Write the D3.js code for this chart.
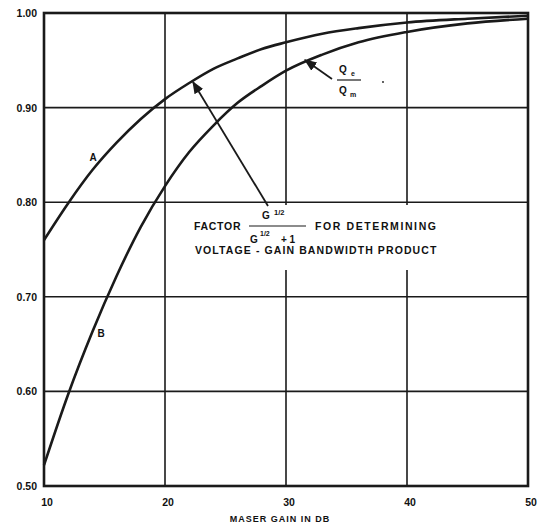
<!DOCTYPE html>
<html><head><meta charset="utf-8">
<script src="https://cdn.jsdelivr.net/npm/d3@7"></script>
<style>body{margin:0;background:#fff}text{font-family:"Liberation Sans",Arial,sans-serif;font-weight:bold;fill:#111}</style>
</head><body><svg id="c" width="545" height="524"></svg>
<script>
const gainDb = [10,12,14,16,18,20,22,24,26,28,30,33,36,40,45,50];
const curveA = [0.760,0.799,0.834,0.863,0.888,0.909,0.926,0.941,0.952,0.962,0.969,0.978,0.984,0.990,0.994,0.997];
const curveB = [0.522,0.597,0.663,0.722,0.774,0.817,0.853,0.881,0.905,0.923,0.939,0.956,0.969,0.980,0.989,0.994];
const xTicks = [10,20,30,40,50];
const yTicks = [0.50,0.60,0.70,0.80,0.90,1.00];
const yTickLabels = ["0.50","0.60","0.70","0.80","0.90","1.00"];

const svg = d3.select("#c");
const x = d3.scaleLinear().domain([10,50]).range([44,528]);
const y = d3.scaleLinear().domain([0.5,1.0]).range([486,13]);
const ink = "#1a1a1a";

// grid
svg.append("g").selectAll("line.v").data(xTicks).join("line")
  .attr("x1",d=>x(d)).attr("x2",d=>x(d)).attr("y1",y(1)).attr("y2",y(0.5))
  .attr("stroke",ink).attr("stroke-width",1.6);
svg.append("g").selectAll("line.h").data(yTicks).join("line")
  .attr("x1",x(10)).attr("x2",x(50)).attr("y1",d=>y(d)).attr("y2",d=>y(d))
  .attr("stroke",ink).attr("stroke-width",1.6);
// frame
svg.append("rect").attr("x",x(10)).attr("y",y(1)).attr("width",x(50)-x(10)).attr("height",y(0.5)-y(1))
  .attr("fill","none").attr("stroke",ink).attr("stroke-width",2.6);

// white box behind annotation
svg.append("rect").attr("x",190).attr("y",205).attr("width",256).attr("height",65).attr("fill","#fff");

const line = d3.line().x(d=>x(d[0])).y(d=>y(d[1])).curve(d3.curveMonotoneX);
[curveA,curveB].forEach(c=>{
  svg.append("path").datum(gainDb.map((g,i)=>[g,c[i]])).attr("d",line)
    .attr("fill","none").attr("stroke",ink).attr("stroke-width",2.6);
});

// ticks labels
svg.append("g").selectAll("text").data(yTicks).join("text")
  .attr("x",37).attr("y",d=>y(d)+4).attr("text-anchor","end").attr("font-size",10.5)
  .text((d,i)=>yTickLabels[i]);
svg.append("g").selectAll("text").data(xTicks).join("text")
  .attr("x",d=>x(d)+3).attr("y",506).attr("text-anchor","middle").attr("font-size",10.5)
  .text(d=>d);
svg.append("text").attr("x",280).attr("y",522).attr("text-anchor","middle").attr("font-size",9)
  .attr("letter-spacing",1).text("MASER GAIN IN DB");

// curve labels
svg.append("text").attr("x",93).attr("y",161).attr("text-anchor","middle").attr("font-size",10).text("A");
svg.append("text").attr("x",101).attr("y",337).attr("text-anchor","middle").attr("font-size",10).text("B");

// arrows
const defs = svg.append("defs");
defs.append("marker").attr("id","ah").attr("viewBox","0 0 10 10").attr("refX",9).attr("refY",5)
  .attr("markerWidth",7).attr("markerHeight",7).attr("orient","auto")
  .append("path").attr("d","M0,1 L10,5 L0,9 Z").attr("fill",ink);
svg.append("line").attr("x1",268).attr("y1",206).attr("x2",193).attr("y2",82)
  .attr("stroke",ink).attr("stroke-width",1.8).attr("marker-end","url(#ah)");
svg.append("line").attr("x1",332).attr("y1",79).attr("x2",305).attr("y2",60)
  .attr("stroke",ink).attr("stroke-width",1.8).attr("marker-end","url(#ah)");

// Qe/Qm
svg.append("text").attr("x",343).attr("y",73).attr("font-size",10).attr("text-anchor","middle").text("Q");
svg.append("text").attr("x",351).attr("y",76).attr("font-size",7).text("e");
svg.append("line").attr("x1",337).attr("x2",361).attr("y1",80).attr("y2",80).attr("stroke",ink).attr("stroke-width",1.2);
svg.append("text").attr("x",343).attr("y",94).attr("font-size",10).attr("text-anchor","middle").text("Q");
svg.append("text").attr("x",350).attr("y",97).attr("font-size",7).text("m");
svg.append("circle").attr("cx",383).attr("cy",82).attr("r",0.9).attr("fill",ink);

// annotation
svg.append("text").attr("x",194).attr("y",230).attr("font-size",10.5).attr("letter-spacing",0.7).text("FACTOR");
svg.append("text").attr("x",262).attr("y",219).attr("font-size",10).text("G");
svg.append("text").attr("x",274).attr("y",215).attr("font-size",7.5).text("1/2");
svg.append("line").attr("x1",249).attr("x2",306).attr("y1",226).attr("y2",226).attr("stroke",ink).attr("stroke-width",1.2);
svg.append("text").attr("x",250).attr("y",243).attr("font-size",10).text("G");
svg.append("text").attr("x",260).attr("y",236).attr("font-size",7).text("1/2");
svg.append("text").attr("x",281).attr("y",243).attr("font-size",10).text("+ 1");
svg.append("text").attr("x",315).attr("y",230).attr("font-size",10.5).attr("letter-spacing",1.6).text("FOR DETERMINING");
svg.append("text").attr("x",195).attr("y",254).attr("font-size",10.5).attr("letter-spacing",1.1).text("VOLTAGE - GAIN BANDWIDTH PRODUCT");
</script></body></html>
